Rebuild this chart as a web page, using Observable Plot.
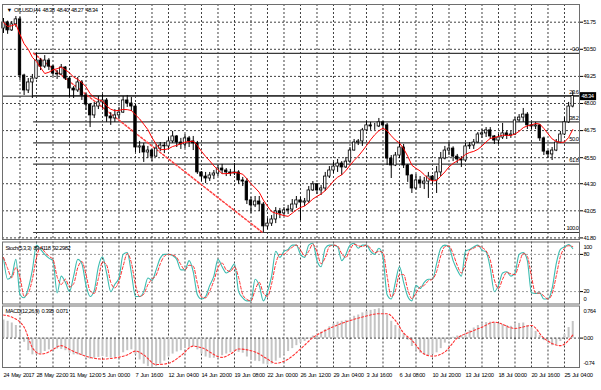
<!DOCTYPE html>
<html><head><meta charset="utf-8">
<script src="https://cdn.jsdelivr.net/npm/d3@7"></script>
<script src="https://cdn.jsdelivr.net/npm/@observablehq/plot@0.6"></script>
<style>
html,body{margin:0;padding:0;background:#fff;}
#chart{position:relative;width:601px;height:390px;overflow:hidden;background:#fff;}
#chart svg{position:absolute;left:0;top:0;background:transparent;}
#chart svg text{letter-spacing:-0.5px;word-spacing:1.2px;}
</style></head><body><div id="chart"></div>
<script>
// ---------- data (8-hour candles, index j) ----------
const symbol = "OILUSD,H4";
const lastOHLC = [48.38, 48.40, 48.27, 48.34];
const open = [
51.46,51.74,51.37,51.65,51.88,49.29,48.60,48.97,49.15,49.98,
49.70,49.98,49.70,49.38,49.34,49.66,49.15,48.69,48.60,48.97,
48.37,47.95,47.45,47.86,48.05,48.14,47.40,47.31,47.45,47.58,
48.14,48.00,47.86,45.97,46.02,45.74,45.83,45.55,45.92,46.06,
46.02,46.25,46.48,46.20,46.11,46.39,46.25,46.16,44.82,44.63,
44.54,44.68,44.77,45.00,44.91,44.82,44.77,44.82,44.45,44.40,
43.53,43.30,43.48,43.34,42.33,42.46,42.65,43.02,42.93,43.07,
43.11,43.34,43.53,43.43,43.48,43.99,44.27,43.99,44.08,44.63,
44.91,45.09,45.23,45.05,45.32,45.83,46.20,46.25,46.76,46.99,
46.94,46.94,47.13,46.99,45.46,45.14,45.60,45.97,45.14,44.68,
44.08,44.45,44.31,44.40,44.63,44.45,44.82,45.46,45.83,45.92,
45.55,45.42,45.37,46.02,46.06,46.20,46.57,46.62,46.76,46.48,
46.29,46.43,46.62,46.52,46.57,47.22,47.35,47.49,46.99,46.94,
46.99,46.39,45.78,45.65,45.83,46.20,46.57,47.13,47.86];
const high = [
51.92,51.80,51.78,52.01,51.97,49.35,49.15,49.34,50.30,50.07,
50.21,50.07,49.75,49.52,49.80,49.70,49.24,48.78,49.20,49.06,
48.46,48.00,48.05,48.32,48.41,48.23,47.58,47.72,47.82,48.32,
48.37,48.28,47.95,46.25,46.16,46.02,45.88,46.11,46.20,46.20,
46.43,46.71,46.52,46.39,46.57,46.48,46.48,46.25,44.86,44.82,
44.82,44.91,45.14,45.19,45.00,44.96,45.23,44.90,44.59,44.54,
43.67,43.71,43.71,43.43,42.69,42.83,43.20,43.16,43.20,43.30,
43.57,43.71,43.67,43.62,44.17,44.40,44.31,44.22,44.82,45.09,
45.28,45.42,45.32,45.51,45.97,46.34,46.34,46.85,47.17,47.13,
47.08,47.31,47.17,47.08,45.60,45.74,46.20,46.11,45.19,44.73,
44.73,44.63,44.59,44.82,44.68,45.09,45.74,46.02,46.20,46.00,
45.65,45.55,46.16,46.20,46.34,46.66,46.80,46.89,46.89,46.52,
46.57,47.08,46.71,46.71,47.35,47.49,47.77,47.58,47.13,47.13,
47.03,46.45,45.83,45.97,46.34,46.71,47.35,48.05,48.55];
const low = [
51.23,51.19,51.32,51.51,49.06,48.37,48.46,48.23,49.10,49.52,
49.61,49.52,49.24,49.11,49.30,49.06,48.28,48.23,48.51,48.14,
47.68,46.89,47.31,47.72,47.77,47.13,46.99,47.13,47.26,47.54,
47.82,47.63,45.74,45.69,45.28,45.46,45.32,45.51,45.78,45.69,
45.92,46.16,45.97,45.88,45.92,45.97,45.83,44.73,44.40,44.31,
44.40,44.49,44.63,44.73,44.63,44.63,44.68,44.27,44.17,43.34,
42.93,43.20,43.02,42.05,42.19,42.33,42.46,42.69,42.79,42.88,
42.97,43.16,42.60,43.25,43.39,43.94,43.80,43.76,43.94,44.54,
44.77,44.82,44.68,45.00,45.23,45.80,46.06,46.02,46.70,46.76,
46.76,46.89,46.80,45.14,44.54,45.09,45.46,45.00,44.36,43.85,
44.00,44.08,44.03,43.62,44.27,43.85,44.63,45.40,45.60,45.32,
45.23,45.05,45.30,45.88,45.88,46.16,46.39,46.43,46.34,46.11,
46.11,46.34,46.34,46.39,46.52,47.13,47.13,46.80,46.80,46.80,
46.25,45.60,45.46,45.37,45.78,46.15,46.52,47.08,47.80];
const close = [
51.74,51.37,51.65,51.88,49.29,48.60,48.97,49.15,49.98,49.70,
49.98,49.70,49.38,49.34,49.66,49.15,48.69,48.60,48.97,48.37,
47.95,47.45,47.86,48.05,48.14,47.40,47.31,47.45,47.58,48.14,
48.00,47.86,45.97,46.02,45.74,45.83,45.55,45.92,46.06,46.02,
46.25,46.48,46.20,46.11,46.39,46.25,46.16,44.82,44.63,44.54,
44.68,44.77,45.00,44.91,44.82,44.77,44.82,44.45,44.40,43.53,
43.30,43.48,43.34,42.33,42.46,42.65,43.02,42.93,43.07,43.11,
43.34,43.53,43.43,43.48,43.99,44.27,43.99,44.08,44.63,44.91,
45.09,45.23,45.05,45.32,45.83,46.20,46.25,46.76,46.99,46.94,
46.94,47.13,46.99,45.46,45.14,45.60,45.97,45.14,44.68,44.08,
44.45,44.31,44.40,44.63,44.45,44.82,45.46,45.83,45.92,45.55,
45.42,45.37,46.02,46.06,46.20,46.57,46.62,46.76,46.48,46.29,
46.43,46.62,46.52,46.57,47.22,47.35,47.49,46.99,46.94,46.99,
46.39,45.78,45.65,45.83,46.20,46.57,47.13,47.86,48.34];

const stochK = [
75,40,45,72,15,10,25,55,95,88,
80,74,70,18,45,35,20,45,72,65,
30,12,22,60,76,50,20,32,42,80,
83,50,12,12,20,42,38,55,74,80,
80,78,72,55,55,70,52,15,8,12,
30,45,72,60,50,55,65,20,10,5,
5,40,30,5,20,45,85,75,85,88,
95,95,80,75,95,98,70,60,90,95,
95,92,70,80,95,98,90,95,95,85,
80,90,75,15,8,35,60,35,12,5,
30,25,35,40,40,65,90,95,92,70,
55,45,85,88,92,95,87,84,58,20,
30,50,52,45,50,80,83,70,18,17,
18,8,8,25,65,88,92,96,89.41];

const macdMain = [
0.43,0.40,0.36,0.30,0.15,-0.10,-0.30,-0.40,-0.40,-0.38,
-0.32,-0.28,-0.26,-0.26,-0.27,-0.30,-0.36,-0.40,-0.40,-0.42,
-0.45,-0.50,-0.48,-0.46,-0.44,-0.46,-0.48,-0.46,-0.42,-0.35,
-0.30,-0.28,-0.40,-0.52,-0.62,-0.68,-0.70,-0.68,-0.62,-0.55,
-0.45,-0.38,-0.33,-0.30,-0.25,-0.22,-0.20,-0.28,-0.38,-0.45,
-0.48,-0.48,-0.45,-0.42,-0.38,-0.35,-0.32,-0.34,-0.36,-0.45,
-0.52,-0.55,-0.56,-0.62,-0.64,-0.62,-0.55,-0.48,-0.40,-0.32,
-0.25,-0.18,-0.12,-0.08,-0.02,0.05,0.10,0.14,0.20,0.27,
0.33,0.38,0.40,0.42,0.46,0.52,0.55,0.60,0.64,0.66,
0.68,0.70,0.69,0.55,0.40,0.30,0.22,0.10,-0.05,-0.20,
-0.30,-0.36,-0.40,-0.42,-0.40,-0.35,-0.25,-0.12,-0.02,0.02,
0.05,0.06,0.12,0.18,0.24,0.30,0.34,0.37,0.38,0.36,
0.33,0.32,0.30,0.28,0.32,0.35,0.36,0.30,0.24,0.16,
0.06,-0.06,-0.14,-0.18,-0.16,-0.08,0.08,0.25,0.395];

const sigJ = [0,2,5,6,7,9,11,12,14,16,18,21,24,27,30,32,34,37,40,43,46,48,53,55,57,61,64,66,69,72,75,78,82,87,91,93,95,97,99,102,104,107,110,113,116,119,124,128,131,135,138];
const sigV = [0.55,0.50,0.26,0.02,-0.23,-0.38,-0.33,-0.27,-0.18,-0.27,-0.36,-0.46,-0.50,-0.47,-0.40,-0.31,-0.40,-0.63,-0.60,-0.42,-0.19,-0.23,-0.46,-0.38,-0.26,-0.33,-0.50,-0.60,-0.50,-0.26,0.01,0.18,0.35,0.50,0.58,0.58,0.42,0.12,-0.05,-0.38,-0.43,-0.33,0.0,0.14,0.26,0.38,0.23,0.30,0.0,-0.18,0.071];

const priceTicks = [51.75, 50.50, 49.25, 48.00, 46.75, 45.50, 44.30, 43.05, 41.80];
const fibLevels = [0, 23.6, 38.2, 50, 61.8, 100];
const fibHigh = 50.31, fibLow = 42.05, fibStartJ = 7.3, fibEndJ = 62.8;
const xLabelJ = [0,8,16,24,32,40,48,56,64,72,80,88,96,104,112,120,128,136];
const xLabels = ["24 May 2017","28 May 22:00","31 May 12:00","5 Jun 00:00","7 Jun 16:00","12 Jun 04:00","14 Jun 20:00","19 Jun 08:00","22 Jun 00:00","26 Jun 12:00","29 Jun 04:00","3 Jul 16:00","6 Jul 08:00","10 Jul 20:00","13 Jul 12:00","18 Jul 00:00","20 Jul 16:00","25 Jul 04:00"];
const stochLevels = [80, 20];
const stochLimits = [100, 0];
const macdLimits = [0.764, -0.74];
const stochHeader = "Stoch(5,3,3) 89.4118 92.2982";
const macdHeader = "MACD(12,26,9) 0.395 0.071";

// ---------- layout ----------
const W = 601, H = 390;
const xDomain = [-0.242, 139.64];
const gridJ = d3.range(4, 139, 4);
const FONT = "'Liberation Sans', Arial, sans-serif";
const common = {
  width: W, height: H, marginLeft: 2, marginRight: 22,
  x: {domain: xDomain, axis: null, label: null},
  style: {fontFamily: FONT, fontSize: "5.8px", background: "transparent", color: "#000", overflow: "visible"}
};
const dotted = {stroke: "#111", strokeOpacity: 0.8, strokeDasharray: "2,2"};
const frame = Plot.frame({stroke: "#6e6e6e"});

const candles = close.map((c, j) => ({j, o: open[j], h: high[j], l: low[j], c}));
const lastClose = close[close.length - 1];
const fibPrice = L => fibHigh - (fibHigh - fibLow) * L / 100;
const fibTrend = [{j: fibStartJ, p: fibHigh}, {j: fibEndJ, p: fibLow}];
const header = `\u25BC ${symbol} ${lastOHLC.map(v => v.toFixed(2)).join(" ")}`;

const mainPlot = Plot.plot({
  ...common, marginTop: 4, marginBottom: H - 239,
  y: {domain: [41.727, 52.566], axis: null, label: null},
  marks: [
    Plot.ruleY(priceTicks, dotted),
    Plot.ruleX(gridJ, dotted),
    Plot.ruleY(fibLevels, {y: fibPrice, x1: fibStartJ, x2: xDomain[1], stroke: "#3a3a3a", strokeWidth: 1.2}),
    Plot.ruleY([lastClose], {stroke: "#3a3a3a", strokeWidth: 1.2}),
    Plot.line(fibTrend, {x: "j", y: "p", stroke: "#ff4040", strokeDasharray: "2,2"}),
    Plot.ruleX(candles, {x: "j", y1: "l", y2: "h", stroke: "#000", strokeWidth: 1}),
    Plot.rect(candles, {x1: d => d.j - 0.3, x2: d => d.j + 0.3, y1: "o", y2: "c",
      fill: d => d.c >= d.o ? "#fff" : "#000", stroke: "#000", strokeWidth: 0.8}),
    Plot.lineY(candles, Plot.windowY({k: 7, anchor: "end", reduce: "mean"}, {x: "j", y: "c", stroke: "#ff0000", strokeWidth: 1})),
    Plot.text(fibLevels, {x: xDomain[1], y: fibPrice, text: L => L.toFixed(1), textAnchor: "end", lineAnchor: "bottom", dx: -1, dy: -2}),
    Plot.axisY(priceTicks, {anchor: "right", label: null, tickSize: 3, tickPadding: 1, tickFormat: d => d.toFixed(2)}),
    Plot.ruleY([lastClose], {x1: xDomain[1], x2: xDomain[1] + 4.15, stroke: "#000", strokeWidth: 8}),
    Plot.text([lastClose], {x: xDomain[1], y: d => d, text: d => d.toFixed(2), fill: "#fff", textAnchor: "start", dx: 2}),
    Plot.text([header], {frameAnchor: "top-left", text: d => d, lineAnchor: "top", dx: 4, dy: 3}),
    frame
  ]
});

const stochData = stochK.map((k, j) => ({j, k}));
const stochPlot = Plot.plot({
  ...common, marginTop: 241.5, marginBottom: H - 303.5,
  y: {domain: [0, 100], axis: null, label: null},
  marks: [
    Plot.ruleX(gridJ, dotted),
    Plot.ruleY(stochLevels, {stroke: "#9a9a9a", strokeDasharray: "2,2"}),
    Plot.line(stochData, {x: "j", y: "k", stroke: "#3cbcb0", strokeWidth: 1.1, curve: "monotone-x"}),
    Plot.line(stochData, Plot.windowY({k: 2, anchor: "end", reduce: "mean"}, {x: "j", y: "k", stroke: "#ff3030", strokeDasharray: "3,2", strokeWidth: 1, curve: "monotone-x"})),
    Plot.text([stochHeader], {frameAnchor: "top-left", text: d => d, lineAnchor: "top", dx: 3, dy: 4}),
    Plot.axisY(stochLevels, {anchor: "right", label: null, tickSize: 3, tickPadding: 1}),
    Plot.text([stochLimits[0]], {x: xDomain[1], y: d => d, text: d => String(d), textAnchor: "start", dx: 4, dy: 5.5}),
    Plot.text([stochLimits[1]], {x: xDomain[1], y: d => d, text: d => String(d), textAnchor: "start", dx: 4, dy: -4.5}),
    frame
  ]
});

const macdData = macdMain.map((m, j) => ({j, m}));
const sigData = sigJ.map((j, i) => ({j, v: sigV[i]}));
const macdPlot = Plot.plot({
  ...common, marginTop: 305.5, marginBottom: H - 367,
  y: {domain: [-0.70, 0.764], axis: null, label: null},
  marks: [
    Plot.ruleX(gridJ, dotted),
    Plot.ruleX(macdData, {x: "j", y1: 0, y2: "m", stroke: "#c4c4c4", strokeWidth: 2}),
    Plot.ruleY([0], dotted),
    Plot.line(sigData, {x: "j", y: "v", stroke: "#ff3030", strokeDasharray: "2,2", strokeWidth: 1.1, curve: "monotone-x"}),
    Plot.text([macdHeader], {frameAnchor: "top-left", text: d => d, lineAnchor: "top", dx: 3, dy: 3}),
    Plot.axisY([0], {anchor: "right", label: null, tickSize: 3, tickPadding: 1, tickFormat: d => d.toFixed(2)}),
    Plot.text([macdLimits[0]], {x: xDomain[1], y: d => d, text: d => String(d), textAnchor: "start", dx: 4, dy: 5.5}),
    Plot.text([macdLimits[1]], {x: xDomain[1], y: d => d, text: d => String(d), textAnchor: "start", dx: 4, dy: -6}),
    Plot.axisX(xLabelJ, {anchor: "bottom", label: null, tickSize: 0, tickPadding: 5, textAnchor: "start",
      tickFormat: d => xLabels[xLabelJ.indexOf(d)]}),
    frame
  ]
});

const root = document.getElementById("chart");
for (const p of [mainPlot, stochPlot, macdPlot]) root.appendChild(p);
</script></body></html>
